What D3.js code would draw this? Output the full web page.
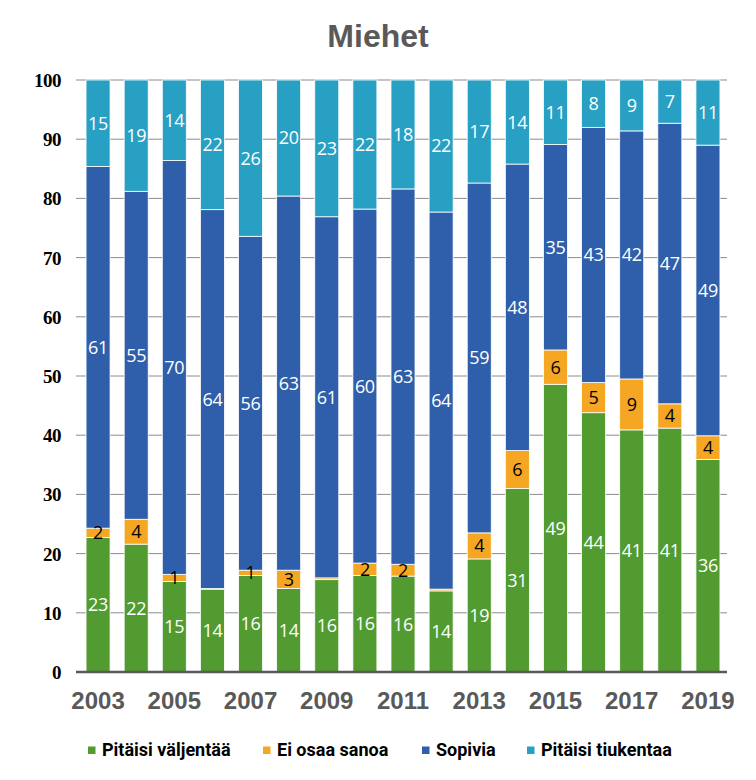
<!DOCTYPE html>
<html><head><meta charset="utf-8">
<script src="https://cdn.jsdelivr.net/npm/d3@7"></script>
<style>body{margin:0;background:#fff}</style>
</head><body><svg id="c" width="756" height="780"></svg>
<script>
const years = ["2003","2004","2005","2006","2007","2008","2009","2010","2011","2012","2013","2014","2015","2016","2017","2018","2019"];
const seriesNames = ["Pitäisi väljentää","Ei osaa sanoa","Sopivia","Pitäisi tiukentaa"];
const valjentaa = [22.7,21.6,15.3,14.0,16.3,14.1,15.6,16.3,16.2,13.7,19.1,31.0,48.6,43.8,40.9,41.2,35.9];
const eiOsaa    = [1.6,4.2,1.2,0.1,0.9,3.1,0.3,2.1,2.0,0.3,4.4,6.4,5.8,5.1,8.6,4.1,4.0];
const sopivia   = [61.1,55.4,69.9,64.0,56.4,63.2,61.0,59.8,63.4,63.7,59.1,48.4,34.7,43.1,41.9,47.4,49.1];
const tiukentaa = [14.6,18.8,13.6,21.9,26.4,19.6,23.1,21.8,18.4,22.3,17.4,14.2,10.9,8.0,8.6,7.3,11.0];
const yTicks = [0,10,20,30,40,50,60,70,80,90,100];
const xTickLabels = ["2003","2005","2007","2009","2011","2013","2015","2017","2019"];
const colors = ["#519b30","#f5a623","#2f5faa","#28a0c3"];
const labelColors = ["#fff","#000","#fff","#fff"];

const svg = d3.select("#c");
const x = d3.scaleBand().domain(years).range([79,727]).paddingInner(0.37).paddingOuter(0.185);
const y = d3.scaleLinear().domain([0,100]).range([672,80]);

// title
svg.append("text").attr("x",378).attr("y",47).attr("text-anchor","middle")
  .attr("font-family","Liberation Sans, Arial, sans-serif").attr("font-weight","bold")
  .attr("font-size",32).attr("fill","#595959").text("Miehet");

// gridlines
svg.append("g").selectAll("line").data(yTicks.slice(1)).join("line")
  .attr("x1",76).attr("x2",727).attr("y1",d=>y(d)).attr("y2",d=>y(d))
  .attr("stroke","#8c8c8c").attr("stroke-width",1);

// y axis
const yAxis = d3.axisLeft(y).tickValues(yTicks).tickSize(0).tickPadding(0).tickFormat(d3.format("d"));
const gy = svg.append("g").attr("transform","translate(61,0)").call(yAxis);
gy.select(".domain").remove();
gy.selectAll("text").attr("font-family","Liberation Serif, Times New Roman, serif")
  .attr("font-weight","bold").attr("font-size",19).attr("fill","#000").attr("dy","0.34em")
  .attr("letter-spacing","-0.5");

// stacked data
const rows = years.map((yr,i)=>({year:yr, s0:valjentaa[i], s1:eiOsaa[i], s2:sopivia[i], s3:tiukentaa[i]}));
const stack = d3.stack().keys(["s0","s1","s2","s3"])(rows);

const layers = svg.append("g").selectAll("g").data(stack).join("g").attr("fill",(d,i)=>colors[i]);
layers.selectAll("rect").data(d=>d).join("rect")
  .attr("x",d=>x(d.data.year)).attr("width",x.bandwidth())
  .attr("y",d=>y(d[1])).attr("height",d=>y(d[0])-y(d[1]))
  .attr("stroke","#fff").attr("stroke-width",0.8);

// labels
stack.forEach((layer,li)=>{
  svg.append("g").selectAll("text").data(layer.filter(d=>Math.round(d[1]-d[0])>=1)).join("text")
    .attr("x",d=>x(d.data.year)+x.bandwidth()/2)
    .attr("y",d=>y((d[0]+d[1])/2)).attr("dy","0.36em")
    .attr("text-anchor","middle")
    .attr("font-family","Open Sans, Noto Sans, sans-serif").attr("font-size",18)
    .attr("letter-spacing","-0.3")
    .attr("fill",labelColors[li])
    .text(d=>d3.format(".0f")(d[1]-d[0]));
});

// x axis baseline
svg.append("line").attr("x1",76).attr("x2",727).attr("y1",y(0)).attr("y2",y(0))
  .attr("stroke","#595959").attr("stroke-width",2.5);

const xAxis = d3.axisBottom(x).tickValues(xTickLabels).tickSize(0).tickPadding(0);
const gx = svg.append("g").attr("transform","translate(0,709)").call(xAxis);
gx.select(".domain").remove();
gx.selectAll("text").attr("font-family","Liberation Sans, Arial, sans-serif").attr("font-weight","bold")
  .attr("font-size",24).attr("fill","#595959").attr("dy","0");

// legend
const legX = [88,263,422,527];
const leg = svg.append("g").selectAll("g").data(seriesNames).join("g")
  .attr("transform",(d,i)=>`translate(${legX[i]},750)`);
leg.append("rect").attr("x",0).attr("y",-3.5).attr("width",7.5).attr("height",7.5).attr("fill",(d,i)=>colors[i]);
leg.append("text").attr("x",14).attr("y",0).attr("dy","0.36em")
  .attr("font-family","Liberation Sans Narrow, Roboto, sans-serif").attr("font-weight","bold")
  .attr("font-size",18).attr("fill","#000").text(d=>d);
</script></body></html>
